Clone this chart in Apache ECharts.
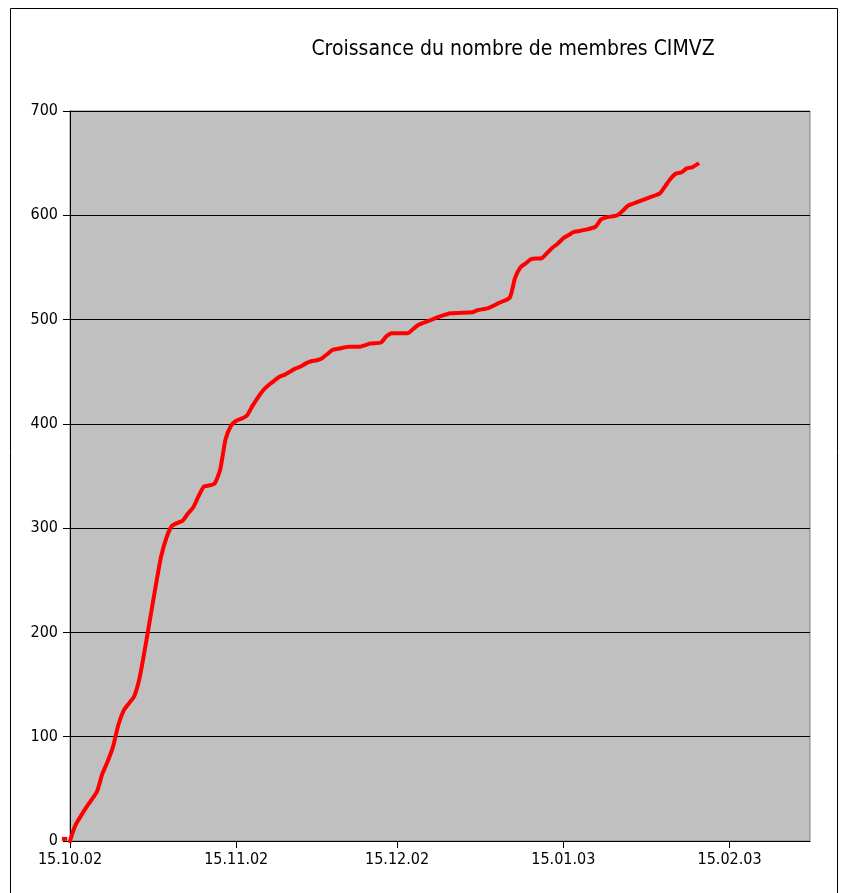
<!DOCTYPE html>
<html>
<head>
<meta charset="utf-8">
<script src="https://cdn.jsdelivr.net/npm/echarts@6/dist/echarts.min.js"></script>
<style>
html,body{margin:0;padding:0;background:#fff;}
#chart{width:841px;height:893px;}
</style>
</head>
<body>
<div id="chart"></div>
<script>
const titleText = 'Croissance du nombre de membres CIMVZ';
const dates = ['2002-10-15','2002-10-16','2002-10-18','2002-10-20','2002-10-21','2002-10-22','2002-10-23','2002-10-24','2002-10-25','2002-10-26','2002-10-27','2002-10-28','2002-10-29','2002-10-30','2002-10-31','2002-11-01','2002-11-02','2002-11-03','2002-11-04','2002-11-05','2002-11-06','2002-11-07','2002-11-08','2002-11-09','2002-11-10','2002-11-11','2002-11-12','2002-11-13','2002-11-14','2002-11-15','2002-11-16','2002-11-17','2002-11-18','2002-11-19','2002-11-20','2002-11-21','2002-11-22','2002-11-23','2002-11-24','2002-11-25','2002-11-26','2002-11-27','2002-11-28','2002-11-29','2002-11-30','2002-12-01','2002-12-02','2002-12-03','2002-12-04','2002-12-06','2002-12-08','2002-12-10','2002-12-12','2002-12-13','2002-12-14','2002-12-17','2002-12-18','2002-12-19','2002-12-21','2002-12-23','2002-12-25','2002-12-29','2002-12-30','2003-01-01','2003-01-03','2003-01-05','2003-01-06','2003-01-07','2003-01-08','2003-01-09','2003-01-11','2003-01-12','2003-01-13','2003-01-14','2003-01-15','2003-01-16','2003-01-17','2003-01-19','2003-01-21','2003-01-22','2003-01-23','2003-01-25','2003-01-26','2003-01-27','2003-01-29','2003-01-31','2003-02-02','2003-02-03','2003-02-04','2003-02-05','2003-02-06','2003-02-07','2003-02-08','2003-02-09'];
const members = [0,15,32,47,64,76,90,111,125,132,139,157,185,215,245,273,291,302,305,307,314,320,331,340,341,343,356,385,398,403,405,408,417,425,432,437,441,445,447,450,453,455,458,460,461,463,467,471,472,474,474,477,478,484,487,487,491,495,499,503,506,507,509,511,516,521,540,550,554,558,559,564,569,573,578,581,584,586,589,596,598,600,604,609,613,617,621,628,635,640,641,645,646,649];
// short segment drawn just before the axis start (left of the plot area)
const preStartDates = ['2002-10-13T12:00','2002-10-14T12:00'];
const preStartValues = [2,2];
const tickDates = ['2002-10-15','2002-11-15','2002-12-15','2003-01-15','2003-02-15'];
const axisMin = '2002-10-15';
const axisMax = '2003-03-02';
const preAxisMin = '2002-10-13';
const yTicks = [0,100,200,300,400,500,600,700];

function ts(s){const [d,t]=s.split('T');const p=d.split('-').map(Number);const h=t?t.split(':').map(Number):[0,0];return new Date(p[0],p[1]-1,p[2],h[0],h[1]).getTime();}
function fmt(v){const d=new Date(v);const dd=String(d.getDate()).padStart(2,'0');const mm=String(d.getMonth()+1).padStart(2,'0');const yy=String(d.getFullYear()%100).padStart(2,'0');return dd+'.'+mm+'.'+yy;}

const font = 'Tahoma, "DejaVu Sans Condensed", "DejaVu Sans", sans-serif';
const chart = echarts.init(document.getElementById('chart'), null, {renderer:'canvas'});
const tickTs = tickDates.map(ts);
const gridLeft = 70, gridRight = 31, gridTop = 111, gridBottom = 52;
const plotW = 841 - gridLeft - gridRight;
const msPerPx = (ts(axisMax) - ts(axisMin)) / plotW;
const extraPx = (ts(axisMin) - ts(preAxisMin)) / msPerPx;
chart.setOption({
  animation:false,
  backgroundColor:'#ffffff',
  title:{text:titleText,left:508,top:34,textAlign:'center',textStyle:{fontFamily:font,fontSize:21,fontWeight:'normal',color:'#000'}},
  graphic:[{type:'rect',shape:{x:10.5,y:8.5,width:827,height:900},style:{fill:'none',stroke:'#000',lineWidth:1},silent:true,z:-1}],
  grid:[
    {left:gridLeft,top:gridTop,right:gridRight,bottom:gridBottom,show:true,backgroundColor:'#C0C0C0',borderColor:'#808080',borderWidth:1},
    {left:gridLeft-extraPx,top:gridTop,right:gridRight,bottom:gridBottom,show:false}
  ],
  xAxis:[
    {type:'value',gridIndex:0,min:ts(axisMin),max:ts(axisMax),
    axisLine:{show:true,lineStyle:{color:'#000',width:1}},
    axisTick:{show:true,length:7,inside:false,customValues:tickTs,lineStyle:{color:'#000'}},
    axisLabel:{customValues:tickTs,formatter:fmt,fontFamily:font,fontSize:16,color:'#000',margin:11,hideOverlap:false,showMinLabel:true,showMaxLabel:true},
    splitLine:{show:false}},
    {type:'value',gridIndex:1,min:ts(preAxisMin),max:ts(axisMax),show:false}
  ],
  yAxis:[
    {type:'value',gridIndex:0,min:yTicks[0],max:yTicks[yTicks.length-1],interval:100,
    axisLine:{show:true,lineStyle:{color:'#000',width:1}},
    axisTick:{show:true,length:7,lineStyle:{color:'#000'}},
    axisLabel:{fontFamily:font,fontSize:16,color:'#000',margin:12},
    splitLine:{show:true,lineStyle:{color:'#000',width:1}}},
    {type:'value',gridIndex:1,min:yTicks[0],max:yTicks[yTicks.length-1],show:false}
  ],
  series:[
    {type:'line',xAxisIndex:0,yAxisIndex:0,data:dates.map((d,i)=>[ts(d),members[i]]),showSymbol:false,symbol:'none',clip:false,z:3,
     lineStyle:{color:'#FF0000',width:4,join:'round',cap:'square'},smooth:0.2},
    {type:'line',xAxisIndex:1,yAxisIndex:1,data:preStartDates.map((d,i)=>[ts(d),preStartValues[i]]),showSymbol:false,symbol:'none',clip:false,z:3,
     lineStyle:{color:'#FF0000',width:4,cap:'butt'}}
  ]
});
</script>
</body>
</html>
